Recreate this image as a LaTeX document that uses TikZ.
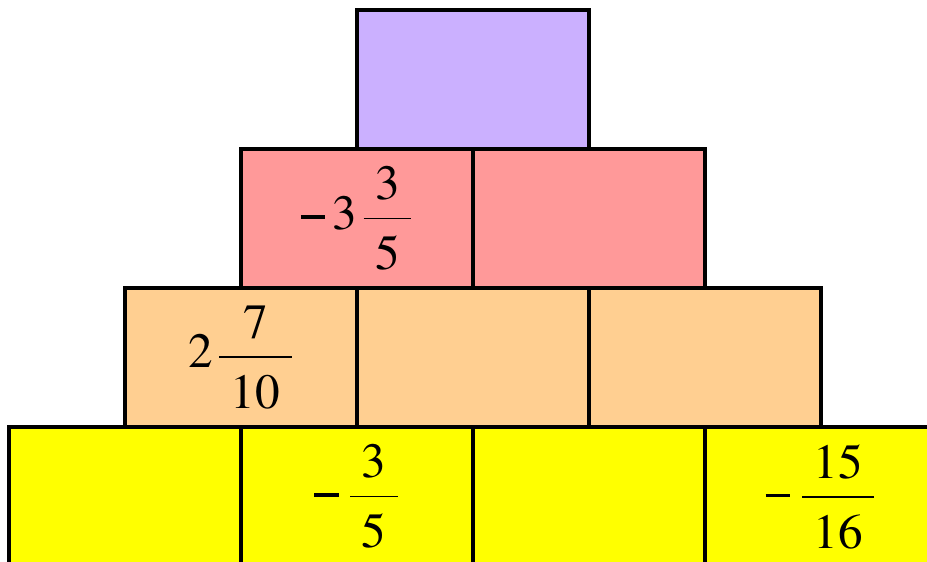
\documentclass[tikz,border=0pt]{standalone}
\usepackage{amsmath}
\usepackage{fontspec}
\newfontfamily\brickfont{TeX Gyre Termes}
\definecolor{lilac}{RGB}{203,176,255}
\definecolor{rose}{RGB}{255,153,153}
\definecolor{peach}{RGB}{255,207,145}
\definecolor{lemon}{RGB}{255,255,0}
\newcommand{\bnum}[1]{\text{\brickfont #1}}
\newcommand{\bminus}{\text{\rule[0.22em]{0.5em}{0.065em}}}
\newcommand{\bfrac}[2]{\dfrac{\hspace{6.5pt}\bnum{#1}\hspace{6.5pt}}{\hspace{6.5pt}\bnum{\rule{0pt}{0.92em}#2}\hspace{6.5pt}}}
\tikzset{brick/.style={draw,line width=2.2pt,minimum width=4.64cm,minimum height=2.78cm,inner sep=0pt,font=\fontsize{28}{34}\selectfont}}

\begin{document}
\begin{tikzpicture}
\useasboundingbox (0,0) rectangle (18.54,11.24);
\clip (0,0) rectangle (18.54,11.24);
% bottom row
\node[brick,fill=lemon] (d1) at (2.5,1.31) {};
\node[brick,fill=lemon] (d2) at (7.14,1.31) {$\bminus\hspace{5.5pt}\bfrac{3}{5}$};
\node[brick,fill=lemon] (d3) at (11.78,1.31) {};
\node[brick,fill=lemon] (d4) at (16.42,1.31) {$\bminus\hspace{5.5pt}\bfrac{15}{16}$};
% third row
\node[brick,fill=peach] (c1) at (4.82,4.09) {$\bnum{2}\hspace{2.5pt}\bfrac{7}{10}$};
\node[brick,fill=peach] (c2) at (9.46,4.09) {};
\node[brick,fill=peach] (c3) at (14.10,4.09) {};
% second row
\node[brick,fill=rose] (b1) at (7.14,6.87) {$\bminus\hspace{4pt}\bnum{3}\hspace{2.5pt}\bfrac{3}{5}$};
\node[brick,fill=rose] (b2) at (11.78,6.87) {};
% top
\node[brick,fill=lilac] (a1) at (9.46,9.65) {};
\end{tikzpicture}
\end{document}
